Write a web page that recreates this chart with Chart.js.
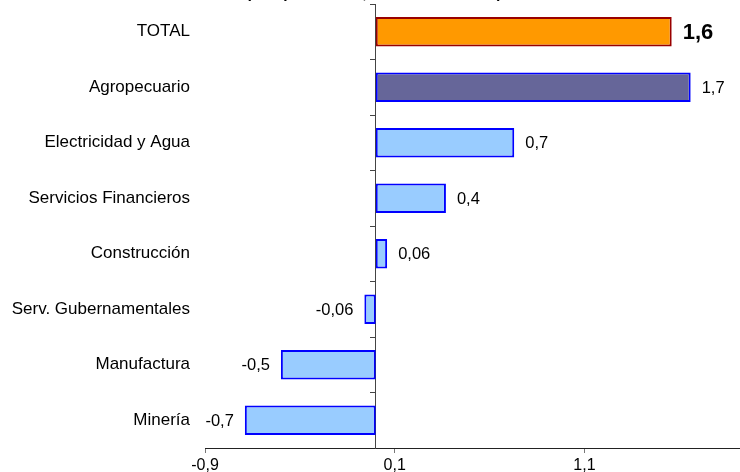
<!DOCTYPE html>
<html>
<head>
<meta charset="utf-8">
<script src="https://cdn.jsdelivr.net/npm/chart.js"></script>
<style>
html, body { margin: 0; padding: 0; background: #fff; }
#wrap { position: relative; width: 740px; height: 472px; }
</style>
</head>
<body>
<div id="wrap"><canvas id="growthChart"></canvas></div>
<script>
// datos del gráfico
const categories = ['TOTAL', 'Agropecuario', 'Electricidad y Agua', 'Servicios Financieros',
                    'Construcción', 'Serv. Gubernamentales', 'Manufactura', 'Minería'];
const growth = [1.56, 1.66, 0.73, 0.37, 0.06, -0.06, -0.50, -0.69];
const valueLabels = ['1,6', '1,7', '0,7', '0,4', '0,06', '-0,06', '-0,5', '-0,7'];
const axisTicks = [-0.9, 0.1, 1.1];
const axisMin = -0.9;
const axisMax = 1.92;
const titleText = '(Var. porcentual, acumulada anual)';

const FONT = "'Liberation Sans', Arial, sans-serif";

// etiquetas de valor junto a cada barra
const valueLabelPlugin = {
    id: 'valueLabels',
    afterDatasetsDraw(chart) {
        const ctx = chart.ctx;
        const bars = chart.getDatasetMeta(0).data;
        ctx.save();
        ctx.fillStyle = '#000';
        ctx.textBaseline = 'middle';
        bars.forEach((bar, i) => {
            const neg = growth[i] < 0;
            ctx.font = i === 0 ? 'bold 22px ' + FONT : '16.5px ' + FONT;
            ctx.textAlign = neg ? 'right' : 'left';
            ctx.fillText(valueLabels[i], bar.x + (neg ? -11 : 11), bar.y + 1);
        });
        ctx.restore();
    }
};

// título cortado en el borde superior
const cutTitlePlugin = {
    id: 'cutTitle',
    afterDraw(chart) {
        const ctx = chart.ctx;
        ctx.save();
        ctx.font = 'bold 15.5px ' + FONT;
        ctx.textAlign = 'center';
        ctx.textBaseline = 'alphabetic';
        ctx.fillStyle = '#000';
        ctx.fillText(titleText, 374, -2.2);
        ctx.restore();
    }
};

const ctx = document.getElementById('growthChart').getContext('2d');
new Chart(ctx, {
    type: 'bar',
    data: {
        labels: categories,
        datasets: [{
            data: growth,
            backgroundColor: c => c.dataIndex === 0 ? '#FF9900' : (c.dataIndex === 1 ? '#666699' : '#99CCFF'),
            borderColor: c => c.dataIndex === 0 ? '#990000' : '#0000FF',
            borderWidth: 2,
            borderSkipped: false,
            barPercentage: 0.53,
            categoryPercentage: 1
        }]
    },
    options: {
        indexAxis: 'y',
        responsive: true,
        maintainAspectRatio: false,
        animation: false,
        layout: { padding: { top: 4, right: 0, bottom: 0, left: 0 } },
        plugins: {
            legend: { display: false },
            tooltip: { enabled: false }
        },
        scales: {
            x: {
                type: 'linear',
                min: axisMin,
                max: axisMax,
                afterBuildTicks: s => { s.ticks = axisTicks.map(v => ({ value: v })); },
                afterFit: s => { s.height = 24; },
                ticks: {
                    callback: v => v.toFixed(1).replace('.', ','),
                    color: '#000',
                    font: { family: FONT, size: 16 },
                    padding: 3,
                    maxRotation: 0,
                    autoSkip: false
                },
                grid: { drawOnChartArea: false, drawTicks: true, tickLength: 5, color: '#777' },
                border: { display: true, color: '#222', width: 1 }
            },
            y: {
                afterFit: s => { s.width = 205; s.paddingTop = 0; s.paddingBottom = 0; },
                ticks: { color: '#000', font: { family: FONT, size: 17 }, padding: 15, autoSkip: false },
                grid: { display: false, drawTicks: false },
                border: { display: false }
            },
            zero: {
                type: 'category',
                axis: 'y',
                position: { x: 0 },
                offset: true,
                ticks: { display: false },
                grid: { offset: true, drawOnChartArea: false, drawTicks: true, tickLength: 5, color: '#444' },
                border: { display: true, color: '#444', width: 1 }
            }
        }
    },
    plugins: [valueLabelPlugin, cutTitlePlugin]
});
</script>
</body>
</html>
